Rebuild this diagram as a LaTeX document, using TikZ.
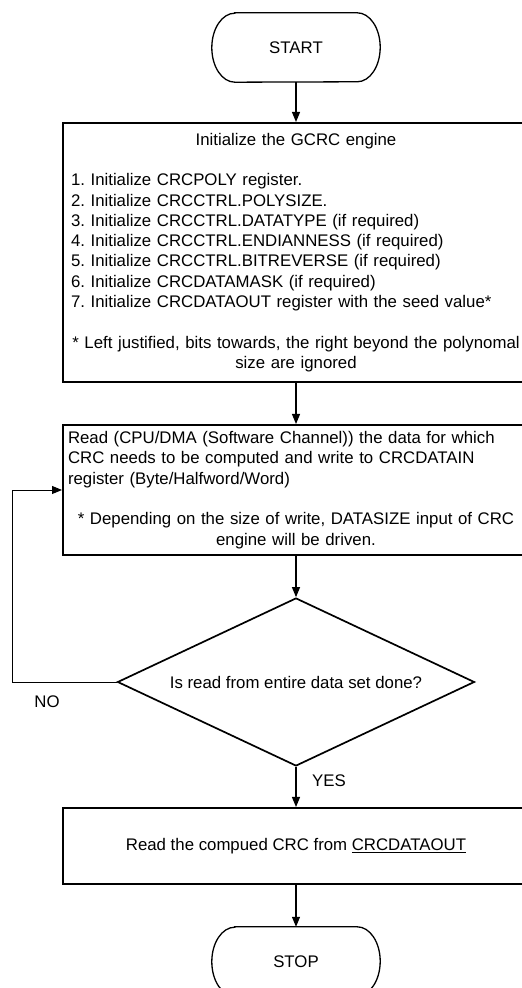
\documentclass[tikz,border=0pt]{standalone}
\usepackage{fontspec}
\setmainfont{Liberation Sans}
\usetikzlibrary{shapes.geometric,arrows.meta}
\frenchspacing
\newcommand{\drawterminal}[1]{%
  \draw[termline] ([xshift=23pt]#1.north west) -- ([xshift=-23pt]#1.north east)
    arc[start angle=90,end angle=-90,x radius=23pt,y radius=34.5pt]
    -- ([xshift=23pt]#1.south west)
    arc[start angle=270,end angle=90,x radius=23pt,y radius=34.5pt] -- cycle;}
\begin{document}
\begin{tikzpicture}[x=1pt,y=1pt,
  every node/.style={font=\fontsize{16.8}{20.3}\selectfont\frenchspacing, inner sep=0pt},
  termbox/.style={minimum width=168pt, minimum height=69pt},
  termline/.style={line width=1.3pt},
  procbox/.style={draw, line width=2pt, minimum width=466pt},
  decision/.style={draw, diamond, line width=1.7pt, minimum width=357pt, minimum height=168pt, aspect=2.125},
  flow/.style={line width=1.1pt, -{Triangle[length=10pt,width=8pt]}},
  loopflow/.style={line width=0.9pt, -{Triangle[length=10pt,width=8pt]}}
]
\useasboundingbox (0,0) rectangle (522,988);
\clip (0,0) rectangle (522,988);

\node[termbox] (start) at (296,940.5) {START};
\drawterminal{start}

\node[procbox, minimum height=259pt, text width=450pt, align=left] (init) at (296,735.5) {%
{\centering Initialize the GCRC engine\par}
\vskip 20.3pt
1. Initialize CRCPOLY register.\\
2. Initialize CRCCTRL.POLYSIZE.\\
3. Initialize CRCCTRL.DATATYPE (if required)\\
4. Initialize CRCCTRL.ENDIANNESS (if required)\\
5. Initialize CRCCTRL.BITREVERSE (if required)\\
6. Initialize CRCDATAMASK (if required)\\
7. Initialize CRCDATAOUT register with the seed value*\par
\vskip 20.3pt
{\centering * Left justified, bits towards, the right beyond the polynomal\\ size are ignored\par}};

\node[procbox, minimum height=130pt, text width=456pt, align=left] (readdata) at (296,498) {%
Read (CPU/DMA (Software Channel)) the data for which\\
CRC needs to be computed and write to CRCDATAIN\\
register (Byte/Halfword/Word)\par
\vskip 20.3pt
{\centering * Depending on the size of write, DATASIZE input of CRC\\ engine will be driven.\par}};

\node[decision] (check) at (296,306) {Is read from entire data set done?};

\node[procbox, minimum height=76pt] (read) at (296,142) {Read the compued CRC from \underline{CRCDATAOUT}};

\node[termbox] (stop) at (296,26.5) {STOP};
\drawterminal{stop}

\node (no) at (47,286) {NO};
\node (yes) at (329,207) {YES};

\coordinate (loopcorner) at (12,306);

\draw[flow] (start.south) -- (init.north);
\draw[flow] (init.south) -- (readdata.north);
\draw[flow] (readdata.south) -- (check.north);
\draw[flow] (check.south) -- (read.north);
\draw[flow] (read.south) -- (stop.north);
\draw[loopflow] (check.west) -- (loopcorner) |- (readdata.west);
\end{tikzpicture}
\end{document}
